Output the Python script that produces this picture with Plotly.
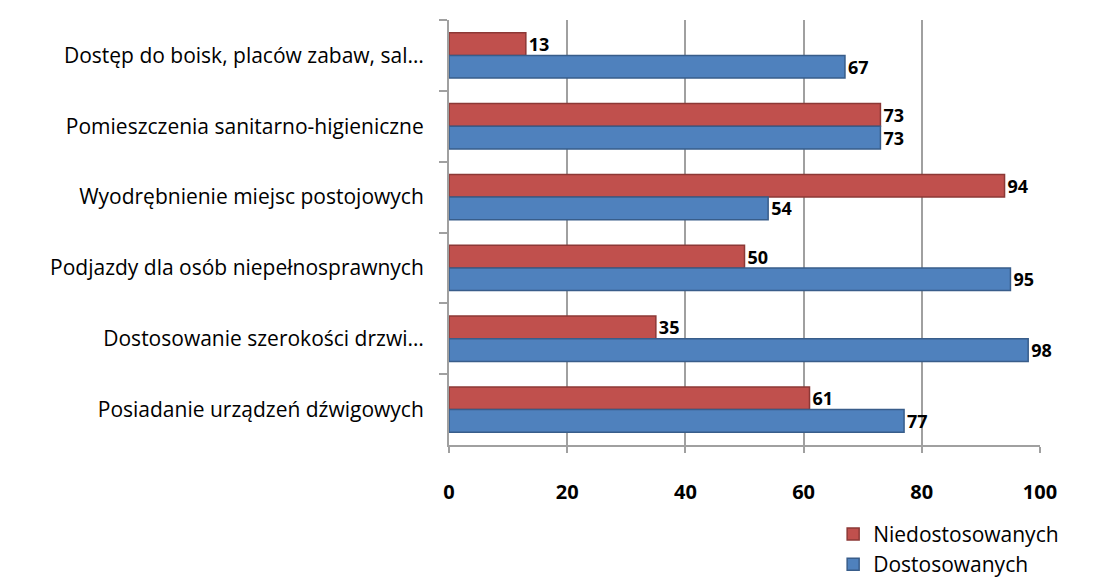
import plotly.graph_objects as go

categories = [
    "Dostęp do boisk, placów zabaw, sal…",
    "Pomieszczenia sanitarno-higieniczne",
    "Wyodrębnienie miejsc postojowych",
    "Podjazdy dla osób niepełnosprawnych",
    "Dostosowanie szerokości drzwi…",
    "Posiadanie urządzeń dźwigowych",
]
dostosowanych = [67, 73, 54, 95, 98, 77]
niedostosowanych = [13, 73, 94, 50, 35, 61]
xticks = [0, 20, 40, 60, 80, 100]

label_font = dict(family="Open Sans", size=18, color="black", weight="bold")

fig = go.Figure()
fig.add_trace(go.Bar(
    y=categories, x=niedostosowanych, orientation="h", name="Niedostosowanych",
    marker=dict(color="#C0504D", line=dict(color="#8C3836", width=1.5)),
    text=niedostosowanych, textposition="outside", cliponaxis=False,
    constraintext="none", textfont=label_font,
))
fig.add_trace(go.Bar(
    y=categories, x=dostosowanych, orientation="h", name="Dostosowanych",
    marker=dict(color="#4F81BD", line=dict(color="#385D8A", width=1.5)),
    text=dostosowanych, textposition="outside", cliponaxis=False,
    constraintext="none", textfont=label_font,
))

fig.update_layout(
    width=1108, height=578,
    barmode="group", bargap=0.36, bargroupgap=0,
    plot_bgcolor="white", paper_bgcolor="white",
    margin=dict(l=441, r=76, t=12, b=141),
    font=dict(family="Open Sans", size=21, color="black"),
    legend=dict(
        traceorder="normal", x=0.65, xanchor="left",
        yref="container", y=0.125, yanchor="top",
        font=dict(size=21), itemwidth=30, tracegroupgap=0,
    ),
    xaxis=dict(
        range=[0, 100], tickvals=xticks, showgrid=True, gridcolor="#A0A0A0",
        gridwidth=2, showline=True, linecolor="#A0A0A0", linewidth=2,
        ticks="outside", ticklen=6, tickcolor="#A0A0A0", tickwidth=2,
        tickfont=dict(size=20, weight="bold"), zeroline=False,
        ticklabelstandoff=22, automargin=False,
    ),
    yaxis=dict(
        autorange="reversed", showline=True, linecolor="#A0A0A0", linewidth=2,
        ticks="outside", tickson="boundaries", ticklen=8, tickcolor="#A0A0A0",
        tickwidth=2, ticklabelstandoff=19, automargin=False,
    ),
)

fig.write_html("out.html")
